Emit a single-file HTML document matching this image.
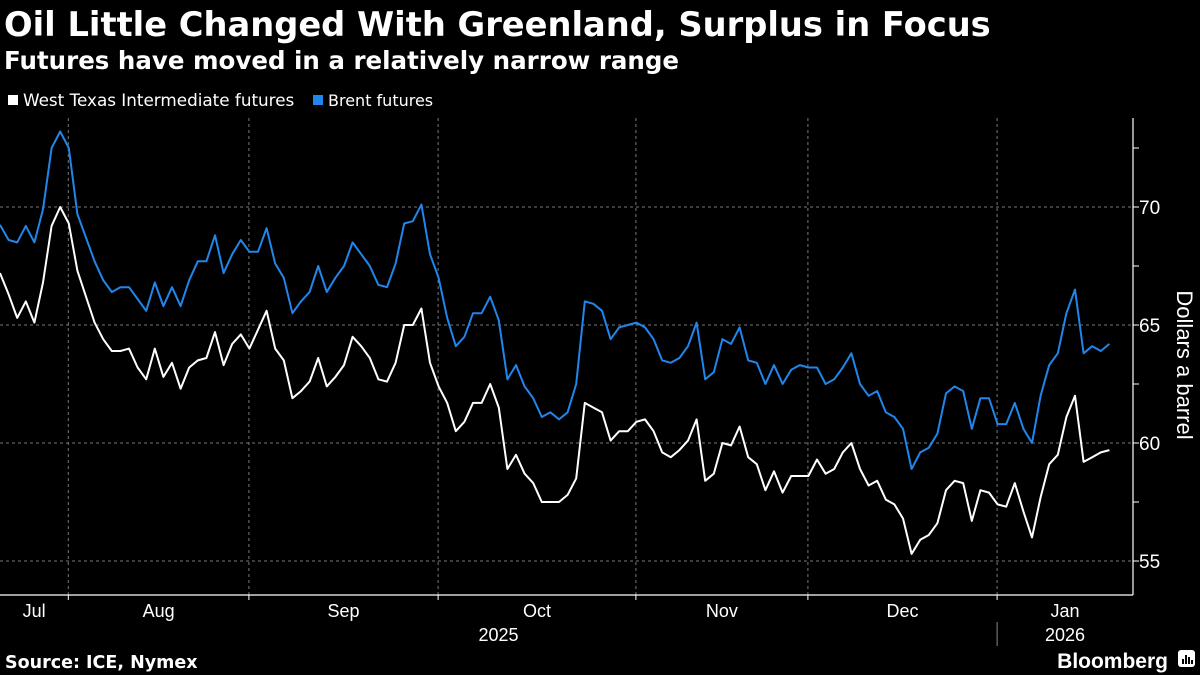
<!DOCTYPE html>
<html><head><meta charset="utf-8"><style>
html,body{margin:0;padding:0;background:#000;}
svg{display:block;font-family:"Liberation Sans","DejaVu Sans",sans-serif;}
</style></head><body>
<svg id="chart" width="1200" height="675" viewBox="0 0 1200 675" xmlns="http://www.w3.org/2000/svg">
<rect width="1200" height="675" fill="#000"/>
<text x="4" y="36" fill="#fff" font-size="33.7" font-weight="bold" font-family="DejaVu Sans, sans-serif">Oil Little Changed With Greenland, Surplus in Focus</text>
<text x="4" y="69" fill="#fff" font-size="24.5" font-weight="bold" font-family="DejaVu Sans, sans-serif">Futures have moved in a relatively narrow range</text>
<g>
<g><rect x="8" y="95" width="10" height="10" fill="#fff"/><text x="23" y="106" fill="#fff" font-size="16.8" font-family="DejaVu Sans, sans-serif">West Texas Intermediate futures</text></g>
<g><rect x="313" y="95" width="10" height="10" fill="#2186eb"/><text x="328" y="106" fill="#fff" font-size="16" font-family="DejaVu Sans, sans-serif">Brent futures</text></g>
</g>
<g id="grid"></g>
<g id="axes"></g>
<g id="series"></g>
<text x="5" y="668" fill="#fff" font-size="17.5" font-weight="bold" font-family="DejaVu Sans, sans-serif">Source: ICE, Nymex</text>
<text x="1168" y="668" text-anchor="end" fill="#fff" font-size="21" font-weight="bold">Bloomberg</text>
<g><rect x="1178" y="650" width="17" height="17" rx="3" fill="#fff"/><rect x="1182" y="659" width="2" height="5" fill="#000"/><rect x="1185" y="655" width="2" height="9" fill="#000"/><rect x="1188" y="657" width="2" height="7" fill="#000"/><rect x="1191" y="660" width="2" height="4" fill="#000"/></g>
</svg>
<script>
const wti = [67.2,66.3,65.3,66.0,65.1,66.8,69.2,70.0,69.3,67.3,66.2,65.1,64.4,63.9,63.9,64.0,63.2,62.7,64.0,62.8,63.4,62.3,63.2,63.5,63.6,64.7,63.3,64.2,64.6,64.0,64.8,65.6,64.0,63.5,61.9,62.2,62.6,63.6,62.4,62.8,63.3,64.5,64.1,63.6,62.7,62.6,63.4,65.0,65.0,
65.7,63.4,62.4,61.7,60.5,60.9,61.7,61.7,62.5,61.5,58.9,59.5,58.7,58.3,57.5,57.5,57.5,57.8,58.5,61.7,61.5,61.3,60.1,60.5,60.5,60.9,61.0,60.5,59.6,59.4,59.7,60.1,61.0,58.4,58.7,60.0,59.9,60.7,59.4,59.1,58.0,58.8,57.9,58.6,
58.6,58.6,59.3,58.7,58.9,59.6,60.0,58.9,58.2,58.4,57.6,57.4,56.8,55.3,55.9,56.1,56.6,58.0,58.4,58.3,56.7,58.0,57.9,57.4,57.3,58.3,57.1,56.0,57.7,59.1,59.5,61.1,62.0,59.2,59.4,59.6,59.7];
const brent = [69.24,68.6,68.5,69.2,68.5,69.9,72.5,73.2,72.5,69.7,68.7,67.7,66.9,66.4,66.6,66.6,66.1,65.6,66.8,65.8,66.6,65.8,66.9,67.7,67.7,68.8,67.2,68.0,68.6,68.1,68.1,69.1,67.6,67.0,65.5,66.0,66.4,67.5,66.4,67.0,67.5,68.5,68.0,67.5,66.7,66.6,67.6,69.3,69.4,70.1,
68.0,67.0,65.3,64.1,64.5,65.5,65.5,66.2,65.2,62.7,63.3,62.4,61.9,61.1,61.3,61.0,61.3,62.5,66.0,65.9,65.6,64.4,64.9,65.0,65.1,64.9,64.4,63.5,63.4,63.6,64.1,65.1,62.7,63.0,64.4,64.2,64.9,63.5,63.4,62.5,63.3,62.5,63.1,
63.3,63.2,63.2,62.5,62.7,63.2,63.8,62.5,62.0,62.2,61.3,61.1,60.6,58.9,59.6,59.8,60.4,62.1,62.4,62.2,60.6,61.9,61.9,60.8,60.8,61.7,60.6,60.0,62.0,63.3,63.8,65.5,66.5,63.8,64.1,63.9,64.2];
const yTicks = [55,60,65,70];
const yMinor = [57.5,62.5,67.5,72.5];
const monthLabels = ["Jul","Aug","Sep","Oct","Nov","Dec","Jan"];
const monthStartIdx = [8,29,51,74,94,116];
const yearLabels = ["2025","2026"];

const NS="http://www.w3.org/2000/svg";
const X0=0, STEP=8.6, AX=1133, TOP=118, BOT=595;
function xs(i){return X0+i*STEP;}
function ys(v){return 207+(70-v)*23.6;}
function mk(tag,attrs,parent){const e=document.createElementNS(NS,tag);for(const k in attrs)e.setAttribute(k,attrs[k]);parent.appendChild(e);return e;}
const grid=document.getElementById('grid'), axes=document.getElementById('axes'), series=document.getElementById('series');

yTicks.forEach(v=>{
  const l=mk('line',{x1:0,x2:AX,y1:ys(v),y2:ys(v),stroke:'#777','stroke-dasharray':'3,3','stroke-width':1},grid);
  
  
  const t=mk('line',{x1:AX,x2:AX+6,y1:ys(v),y2:ys(v),stroke:'#fff'},axes);
  
  
  const tx=mk('text',{x:AX+6,y:ys(v)+7,fill:'#fff','font-size':19},axes);
  tx.textContent=v;
  
  
});
yMinor.forEach(v=>{
  const t=mk('line',{x1:AX,x2:AX+6,y1:ys(v),y2:ys(v),stroke:'#fff'},axes);
  
  
});
const mx=monthStartIdx.map(i=>xs(i)-0.5);
mx.forEach((x,k)=>{
  const g=mk('line',{x1:x,x2:x,y1:TOP,y2:BOT,stroke:'#777','stroke-dasharray':'3,3'},grid);
  
  
  const t=mk('line',{x1:x,x2:x,y1:BOT,y2:BOT+5,stroke:'#fff'},axes);
  
  
});
const bounds=[0].concat(mx).concat([AX]);
monthLabels.forEach((m,k)=>{
  const cx=(bounds[k]+bounds[k+1])/2;
  const t=mk('text',{x:cx,y:617,fill:'#fff','font-size':18,'text-anchor':'middle'},axes);
  t.textContent=m;
  
  
});
const yr1=mk('text',{x:(0+mx[5])/2,y:641,fill:'#fff','font-size':18,'text-anchor':'middle'},axes);
yr1.textContent=yearLabels[0];


const yr2=mk('text',{x:(mx[5]+AX)/2,y:641,fill:'#fff','font-size':18,'text-anchor':'middle'},axes);
yr2.textContent=yearLabels[1];


const sep=mk('line',{x1:mx[5],x2:mx[5],y1:622,y2:646,stroke:'#888'},axes);


const xa=mk('line',{x1:0,x2:AX,y1:BOT,y2:BOT,stroke:'#fff','stroke-width':1.2},axes);


const ya=mk('line',{x1:AX,x2:AX,y1:TOP,y2:BOT,stroke:'#fff','stroke-width':1.2},axes);


const yt=mk('text',{x:0,y:0,fill:'#fff','font-size':22,'text-anchor':'middle',transform:'translate(1177,365) rotate(90)'},axes);
yt.textContent='Dollars a barrel';



function drawLine(data,color,name){
  const d=data.map((v,i)=>(i?'L':'M')+xs(i).toFixed(1)+','+ys(v).toFixed(1)).join('');
  const p=mk('path',{d:d,fill:'none',stroke:color,'stroke-width':2,'stroke-linejoin':'round'},series);
  
  
}
drawLine(brent,'#2186eb','brent-line');
drawLine(wti,'#ffffff','wti-line');
</script>
</body></html>
